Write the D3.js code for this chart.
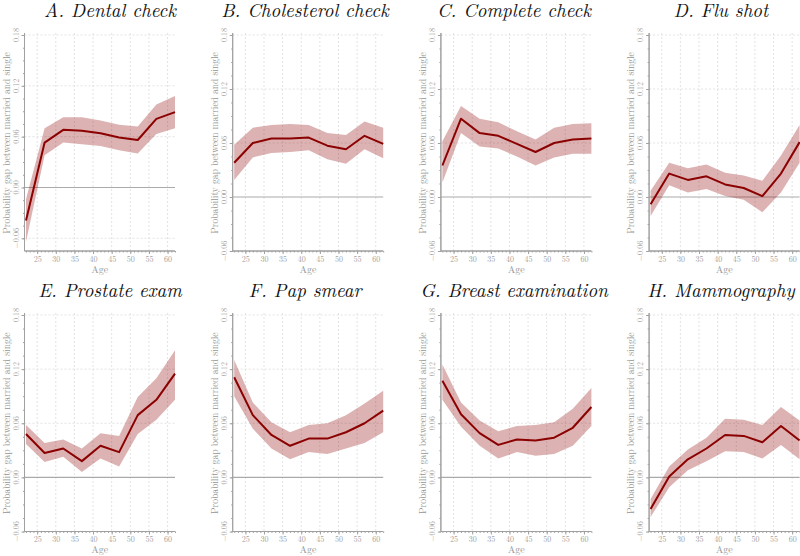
<!DOCTYPE html>
<html>
<head>
<meta charset="utf-8">
<script src="https://cdn.jsdelivr.net/npm/d3@7"></script>
<style>
  html, body { margin: 0; padding: 0; background: #fff; }
  svg { display: block; }
  svg text { font-family: "Latin Modern Roman", "Liberation Serif", serif; }
  .ptitle { font-style: italic; }
</style>
</head>
<body>
<svg id="chart" width="800" height="556"></svg>
<script>
// ---------------- DATA ----------------
const ages = [22, 27, 32, 37, 42, 47, 52, 57, 62];
const xTicks = [25, 30, 35, 40, 45, 50, 55, 60];
const yTicks = [-0.06, 0, 0.06, 0.12, 0.18];
const yTickLabels = ["\u22120.06", "0.00", "0.06", "0.12", "0.18"];

const titles = ["A. Dental check", "B. Cholesterol check", "C. Complete check", "D. Flu shot",
                "E. Prostate exam", "F. Pap smear", "G. Breast examination", "H. Mammography"];

const dentalEst = [-0.039, 0.053, 0.068, 0.067, 0.064, 0.059, 0.056, 0.081, 0.089];
const dentalLo  = [-0.064, 0.038, 0.053, 0.051, 0.049, 0.044, 0.040, 0.063, 0.070];
const dentalHi  = [-0.014, 0.070, 0.083, 0.083, 0.079, 0.074, 0.072, 0.098, 0.108];

const cholEst = [0.038, 0.060, 0.065, 0.065, 0.066, 0.057, 0.053, 0.068, 0.059];
const cholLo  = [0.019, 0.044, 0.049, 0.050, 0.052, 0.042, 0.037, 0.053, 0.043];
const cholHi  = [0.058, 0.077, 0.080, 0.081, 0.080, 0.071, 0.069, 0.084, 0.077];

const completeEst = [0.035, 0.087, 0.071, 0.068, 0.059, 0.050, 0.060, 0.064, 0.065];
const completeLo  = [0.016, 0.071, 0.056, 0.054, 0.045, 0.035, 0.044, 0.048, 0.048];
const completeHi  = [0.062, 0.101, 0.087, 0.083, 0.073, 0.064, 0.077, 0.081, 0.082];

const fluEst = [-0.008, 0.026, 0.019, 0.023, 0.014, 0.010, 0.001, 0.026, 0.061];
const fluLo  = [-0.021, 0.013, 0.005, 0.009, 0.001, -0.003, -0.017, 0.005, 0.038];
const fluHi  = [0.007, 0.038, 0.032, 0.036, 0.027, 0.024, 0.018, 0.046, 0.080];

const prostateEst = [0.048, 0.027, 0.032, 0.018, 0.035, 0.028, 0.069, 0.086, 0.115];
const prostateLo  = [0.037, 0.017, 0.023, 0.006, 0.021, 0.012, 0.048, 0.064, 0.086];
const prostateHi  = [0.058, 0.038, 0.042, 0.032, 0.049, 0.046, 0.089, 0.110, 0.141];

const papEst = [0.111, 0.069, 0.047, 0.035, 0.043, 0.043, 0.050, 0.060, 0.074];
const papLo  = [0.090, 0.054, 0.032, 0.020, 0.028, 0.026, 0.032, 0.038, 0.050];
const papHi  = [0.130, 0.083, 0.061, 0.050, 0.058, 0.060, 0.069, 0.082, 0.096];

const breastEst = [0.107, 0.070, 0.049, 0.036, 0.042, 0.041, 0.044, 0.055, 0.078];
const breastLo  = [0.086, 0.056, 0.035, 0.021, 0.028, 0.024, 0.026, 0.035, 0.057];
const breastHi  = [0.125, 0.083, 0.063, 0.051, 0.057, 0.058, 0.061, 0.076, 0.099];

const mammoEst = [-0.035, 0.001, 0.020, 0.032, 0.047, 0.046, 0.039, 0.057, 0.041];
const mammoLo  = [-0.044, -0.011, 0.008, 0.018, 0.029, 0.028, 0.021, 0.036, 0.020];
const mammoHi  = [-0.024, 0.012, 0.031, 0.044, 0.065, 0.064, 0.058, 0.078, 0.063];

const yMins = [-0.075, -0.06, -0.06, -0.06, -0.06, -0.06, -0.06, -0.06];

const panels = [
  [dentalEst, dentalLo, dentalHi],
  [cholEst, cholLo, cholHi],
  [completeEst, completeLo, completeHi],
  [fluEst, fluLo, fluHi],
  [prostateEst, prostateLo, prostateHi],
  [papEst, papLo, papHi],
  [breastEst, breastLo, breastHi],
  [mammoEst, mammoLo, mammoHi]
].map((s, i) => ({
  title: titles[i],
  yMin: yMins[i],
  rows: ages.map((a, j) => ({ age: a, est: s[0][j], lo: s[1][j], hi: s[2][j] }))
}));

// ---------------- LAYOUT ----------------
const svg = d3.select("#chart");
const plotW = 150.5;
const titleCenters = [110, 305, 514, 721];
const grey = "#a0a0a0";
const red = "#8b0000";

panels.forEach((p, i) => {
  const col = i % 4, row = Math.floor(i / 4);
  const L = 24.5 + col * 208.2;
  const R = L + plotW;
  const T = 35 + row * 280;
  const B = 251 + row * 280.5;

  const x = d3.scaleLinear().domain([21.6, 62]).range([L, R]);
  const y = d3.scaleLinear().domain([p.yMin, 0.18]).range([B, T]);

  const g = svg.append("g");

  // grid
  g.selectAll(".vg").data(xTicks).enter().append("line")
    .attr("x1", d => x(d)).attr("x2", d => x(d))
    .attr("y1", T - 2).attr("y2", B)
    .attr("stroke", "#dcdcdc").attr("stroke-width", 0.8)
    .attr("stroke-dasharray", "2,2");
  g.selectAll(".hg").data(yTicks.filter(d => d !== 0)).enter().append("line")
    .attr("x1", L).attr("x2", R)
    .attr("y1", d => y(d)).attr("y2", d => y(d))
    .attr("stroke", "#dcdcdc").attr("stroke-width", 0.8)
    .attr("stroke-dasharray", "2,2");

  // zero line
  g.append("line")
    .attr("x1", L).attr("x2", R)
    .attr("y1", y(0)).attr("y2", y(0))
    .attr("stroke", "#aaaaaa").attr("stroke-width", 1.1);

  // band
  g.append("path").datum(p.rows)
    .attr("d", d3.area().x(d => x(d.age)).y0(d => y(d.lo)).y1(d => y(d.hi)))
    .attr("fill", red).attr("fill-opacity", 0.3);

  // line
  g.append("path").datum(p.rows)
    .attr("d", d3.line().x(d => x(d.age)).y(d => y(d.est)))
    .attr("fill", "none").attr("stroke", red).attr("stroke-width", 2)
    .attr("stroke-linejoin", "round");

  // y axis
  const yAx = g.append("g").attr("transform", `translate(${L},0)`)
    .call(d3.axisLeft(y).tickValues(yTicks).tickSize(3).tickFormat(""));
  const yMinor = d3.range(-0.06, 0.1801, 0.015);
  const yAxMinor = g.append("g").attr("transform", `translate(${L},0)`)
    .call(d3.axisLeft(y).tickValues(yMinor).tickSize(1.5).tickFormat(""));
  [yAx, yAxMinor].forEach(a => {
    a.select(".domain").attr("stroke", grey).attr("d", `M0,${T - 2}V${B}`);
    a.selectAll(".tick line").attr("stroke", grey);
  });
  g.selectAll(".yl").data(yTicks).enter().append("text")
    .attr("transform", (d) => `translate(${L - 9.5},${y(d)}) rotate(-90)`)
    .attr("text-anchor", "middle").attr("dominant-baseline", "central")
    .attr("font-size", 8).attr("fill", grey)
    .text((d, k) => yTickLabels[k]);

  // y title
  g.append("text")
    .attr("transform", `translate(${L - 19},${(T + B) / 2}) rotate(-90)`)
    .attr("text-anchor", "middle").attr("dominant-baseline", "central")
    .attr("font-size", 9.5).attr("fill", "#959595")
    .text("Probability gap between married and single");

  // x axis
  const xAx = g.append("g").attr("transform", `translate(0,${B})`)
    .call(d3.axisBottom(x).tickValues(xTicks).tickSize(3).tickPadding(2));
  const xAxMinor = g.append("g").attr("transform", `translate(0,${B})`)
    .call(d3.axisBottom(x).tickValues(d3.range(22, 63)).tickSize(1.5).tickFormat(""));
  [xAx, xAxMinor].forEach(a => {
    a.attr("font-family", null);
    a.select(".domain").attr("stroke", grey).attr("d", `M${L},0H${R}`);
    a.selectAll(".tick line").attr("stroke", grey);
  });
  xAx.selectAll(".tick text").attr("font-size", 8).attr("fill", grey);

  g.append("text")
    .attr("x", (L + R) / 2).attr("y", B + 21.5)
    .attr("text-anchor", "middle")
    .attr("font-size", 10).attr("fill", "#959595")
    .text("Age");

  // panel title
  g.append("text").attr("class", "ptitle")
    .attr("x", titleCenters[col]).attr("y", 16.5 + row * 280)
    .attr("text-anchor", "middle")
    .attr("font-size", 19).attr("fill", "#111")
    .text(p.title);
});
</script>
</body>
</html>
